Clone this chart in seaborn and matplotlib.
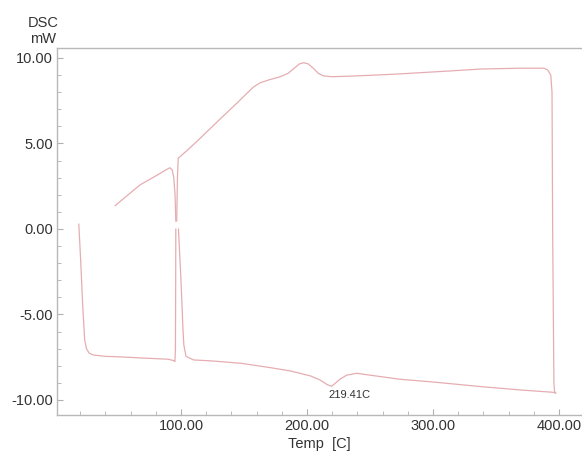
import seaborn as sns
import matplotlib
matplotlib.use("Agg")
import matplotlib.pyplot as plt
from matplotlib.ticker import MultipleLocator, FormatStrFormatter

# DSC trace, split where the plotted line has gaps
heat_low_T = [18.9, 20.5, 22.0, 23.6, 25.0, 27.0, 30.2, 40.0, 51.5, 70.0, 90.0, 94.3, 95.2, 95.6, 95.8, 95.9]
heat_low_mW = [0.29, -2.0, -4.5, -6.5, -7.0, -7.25, -7.37, -7.45, -7.48, -7.55, -7.62, -7.70, -7.76, -7.0, -3.0, 0.0]

peak_T = [47.6, 67.4, 80.0, 88.0, 91.2, 93.0, 94.3, 95.3, 95.9]
peak_mW = [1.35, 2.57, 3.10, 3.45, 3.58, 3.45, 3.00, 2.00, 0.45]

upper_T = [96.6, 97.2, 97.8, 105, 113.8, 130, 145, 157.5, 163, 170, 178.8, 185, 190, 194, 197.3,
           201, 205, 209, 213, 220, 240, 270, 314, 338, 370, 388, 391, 393.5, 394.5, 395, 396, 396.5, 397.5]
upper_mW = [0.45, 3.0, 4.13, 4.6, 5.2, 6.35, 7.4, 8.3, 8.55, 8.72, 8.9, 9.1, 9.4, 9.65, 9.72,
            9.65, 9.4, 9.1, 8.95, 8.9, 8.95, 9.05, 9.24, 9.35, 9.4, 9.4, 9.3, 9.0, 8.0, 0.0, -9.0, -9.5, -9.6]

lower_T = [397.5, 395, 370, 338, 300, 273.8, 250, 239.5, 231.5, 226, 222, 219.4, 216, 210.3, 203,
           194.4, 186.5, 170, 148, 125, 110, 104, 102.3, 101.6, 100, 98.0]
lower_mW = [-9.6, -9.55, -9.42, -9.22, -8.95, -8.79, -8.55, -8.44, -8.55, -8.8, -9.05, -9.2, -9.1, -8.83, -8.6,
            -8.44, -8.3, -8.1, -7.86, -7.72, -7.66, -7.45, -6.8, -5.9, -3.0, 0.0]

temp_ticks = [100, 200, 300, 400]
mw_ticks = [-10, -5, 0, 5, 10]

peak_label = "219.41C"
peak_label_pos = (234, -9.7)

sns.set_style("white")
plt.rcParams["font.family"] = ["Liberation Sans", "DejaVu Sans"]

fig = plt.figure(figsize=(5.82, 4.54), dpi=100)
ax = fig.add_axes([57 / 582, 39 / 454, 1 - 57 / 582, 367 / 454])

line_col = "#e5adb2"
for xs, ys in [(heat_low_T, heat_low_mW), (peak_T, peak_mW), (upper_T, upper_mW), (lower_T, lower_mW)]:
    sns.lineplot(x=xs, y=ys, sort=False, estimator=None, color=line_col, linewidth=0.9, ax=ax)

ax.set_xticks(temp_ticks)
ax.set_yticks(mw_ticks)
ax.xaxis.set_minor_locator(MultipleLocator(20))
ax.yaxis.set_minor_locator(MultipleLocator(1))
ax.xaxis.set_major_formatter(FormatStrFormatter("%.2f"))
ax.yaxis.set_major_formatter(FormatStrFormatter("%.2f"))
ax.set_xlim(1.6, 418.3)
ax.set_ylim(-10.88, 10.58)

ax.tick_params(which="both", direction="in", color="#b0b0b0", labelcolor="#333333",
               labelsize=10.5, left=True, bottom=True)
ax.tick_params(which="major", length=4, pad=3)
ax.tick_params(which="minor", length=3)

for side in ["left", "bottom", "top"]:
    ax.spines[side].set_color("#b8b8b8")
    ax.spines[side].set_linewidth(1.0)
ax.spines["right"].set_visible(False)

ax.set_xlabel("Temp  [C]", fontsize=10.5, color="#333333", labelpad=3)
ax.set_ylabel("")
fig.text(43 / 582, 1 - 31 / 454, "DSC\nmW", ha="center", va="center",
         fontsize=10.5, color="#333333", linespacing=1.2)

ax.text(peak_label_pos[0], peak_label_pos[1], peak_label, ha="center", va="center",
        fontsize=8, color="#333333")

fig.savefig("out.png", dpi=100)
